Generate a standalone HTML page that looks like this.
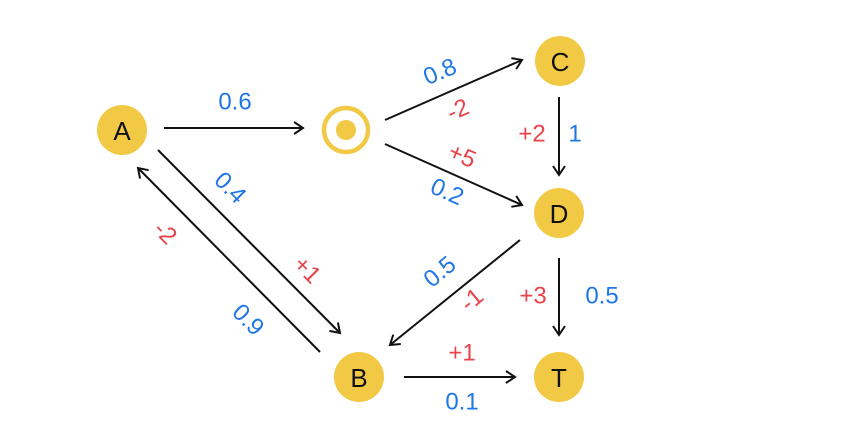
<!DOCTYPE html>
<html><head><meta charset="utf-8"><style>
html,body{margin:0;padding:0;background:#fff;}
svg{display:block;}
text{font-family:"Liberation Sans","DejaVu Sans",sans-serif;font-size:24px;text-anchor:middle;dominant-baseline:central;}
.b{fill:#1f76e6;} .r{fill:#e8434a;} .n{fill:#111;font-size:26px;}
line,polyline{stroke:#111;stroke-width:2;fill:none;}
</style></head><body>
<svg width="844" height="426" viewBox="0 0 844 426" xmlns="http://www.w3.org/2000/svg">
<defs><marker id="ar" markerWidth="14" markerHeight="14" refX="11" refY="7" orient="auto" markerUnits="userSpaceOnUse"><polyline points="2,1 11,7 2,13" style="stroke:#111;stroke-width:2;fill:none"/></marker></defs>
<circle cx="122" cy="130" r="25" fill="#f1c945"/><text class="n" x="122" y="131">A</text>
<circle cx="346" cy="130" r="22" fill="none" stroke="#f1c945" stroke-width="4.5"/><circle cx="346" cy="130" r="10" fill="#f1c945"/>
<circle cx="560" cy="61" r="25" fill="#f1c945"/><text class="n" x="560" y="62">C</text>
<circle cx="559" cy="213" r="25" fill="#f1c945"/><text class="n" x="559" y="214">D</text>
<circle cx="559" cy="377" r="25" fill="#f1c945"/><text class="n" x="559" y="378">T</text>
<circle cx="359" cy="377" r="25" fill="#f1c945"/><text class="n" x="359" y="378">B</text>
<line x1="164" y1="128" x2="303" y2="128" marker-end="url(#ar)"/>
<line x1="385" y1="120" x2="522" y2="60" marker-end="url(#ar)"/>
<line x1="385" y1="144" x2="522" y2="205" marker-end="url(#ar)"/>
<line x1="559" y1="97" x2="559" y2="175" marker-end="url(#ar)"/>
<line x1="559" y1="258" x2="559" y2="335" marker-end="url(#ar)"/>
<line x1="520" y1="240" x2="390" y2="345" marker-end="url(#ar)"/>
<line x1="404" y1="377" x2="515" y2="377" marker-end="url(#ar)"/>
<line x1="158" y1="150" x2="340" y2="333" marker-end="url(#ar)"/>
<line x1="320" y1="352" x2="138" y2="168" marker-end="url(#ar)"/>
<text class="b" x="235" y="102">0.6</text>
<text class="b" x="440" y="72" transform="rotate(-23 440 72)">0.8</text>
<text class="r" x="458" y="110" transform="rotate(-23 458 110)">-2</text>
<text class="r" x="462" y="156" transform="rotate(24 462 156)">+5</text>
<text class="b" x="447" y="192" transform="rotate(24 447 192)">0.2</text>
<text class="r" x="532" y="134">+2</text>
<text class="b" x="575" y="134">1</text>
<text class="b" x="230" y="188" transform="rotate(45 230 188)">0.4</text>
<text class="r" x="165" y="233" transform="rotate(45 165 233)">-2</text>
<text class="r" x="307" y="270" transform="rotate(45 307 270)">+1</text>
<text class="b" x="248" y="320" transform="rotate(45 248 320)">0.9</text>
<text class="b" x="440" y="272" transform="rotate(-40 440 272)">0.5</text>
<text class="r" x="472" y="300" transform="rotate(-40 472 300)">-1</text>
<text class="r" x="533" y="296">+3</text>
<text class="b" x="602" y="296">0.5</text>
<text class="r" x="462" y="353">+1</text>
<text class="b" x="462" y="402">0.1</text>
</svg>
</body></html>
